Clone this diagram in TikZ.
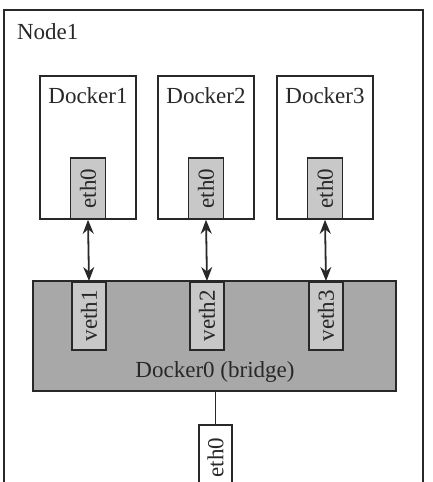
\documentclass[tikz,border=0pt]{standalone}
\usepackage{fontspec}
\setmainfont{Liberation Serif}
\usepackage{tikz}
\usetikzlibrary{positioning,arrows.meta}

\definecolor{ink}{RGB}{40,40,40}
\definecolor{ethgray}{RGB}{200,200,200}
\definecolor{bridgegray}{RGB}{168,168,168}

\tikzset{
    box/.style={draw=ink, line width=0.8pt, inner sep=0pt},
    dockerbox/.style={box, fill=white, minimum width=48pt, minimum height=71.5pt},
    ifbox/.style={box, fill=ethgray, minimum width=30.5pt, minimum height=17.5pt, rotate=90},
    lbl/.style={text=ink, font=\fontsize{11.5}{13.8}\selectfont},
    link/.style={draw=ink, line width=0.9pt, {Stealth[length=7pt,width=5.5pt]}-{Stealth[length=7pt,width=5.5pt]}}
}

\begin{document}
\begin{tikzpicture}[x=0.5pt, y=-0.5pt]
    \useasboundingbox (0,0) rectangle (433,482);
    \fill[white] (0,0) rectangle (433,482);
    \clip (0,0) rectangle (433,482);

    % Node1
    \draw[ink, line width=0.6pt] (4,10) rectangle (423,520);
    \node[lbl, anchor=west] (nodename) at (10,32) {Node1};

    % Containers
    \foreach \i/\x in {1/88, 2/206, 3/325} {
        \node[dockerbox] (d\i) at (\x,147.5) {};
        \node[lbl] (d\i name) at (\x,96) {Docker\i};
        \node[ifbox, anchor=west, lbl] (e\i) at (d\i.south) {eth0};
    }

    % Bridge
    \node[box, fill=bridgegray, minimum width=181.5pt, minimum height=55pt] (br) at (214.5,336) {};
    \node[lbl] (brname) at (215,372) {Docker0 (bridge)};
    \foreach \i/\x in {1/89, 2/207, 3/326} {
        \node[ifbox, lbl, minimum width=34pt, minimum height=17pt, anchor=east] (v\i) at (\x,281) {veth\i};
    }

    % Links
    \foreach \i in {1,2,3}
        \draw[link] (e\i.west) -- (v\i.east);

    % Host interface
    \node[ifbox, lbl, fill=white, minimum width=33pt, minimum height=16.5pt, anchor=east] (h0) at (215.5,424) {eth0};
    \draw[ink, line width=0.8pt] (br.south -| h0.east) -- (h0.east);
\end{tikzpicture}
\end{document}
